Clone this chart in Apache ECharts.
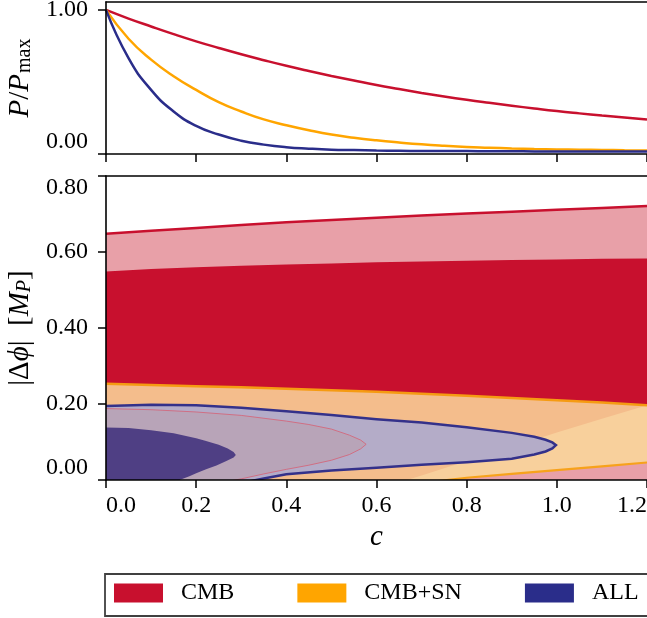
<!DOCTYPE html>
<html><head><meta charset="utf-8">
<script src="https://cdn.jsdelivr.net/npm/echarts@6/dist/echarts.min.js"></script>
<style>html,body{margin:0;padding:0;background:#fff}#c{width:647px;height:618px}</style>
</head><body><div id="c"></div>
<script>
const FONT = 'Liberation Serif';
const RED = '#c8102e', ORANGE = '#ffa500', NAVY = '#2a2d8a';

// ---- top panel: P/Pmax vs c ----
const cTop   = [0, 0.05, 0.1, 0.15, 0.2, 0.25, 0.3, 0.35, 0.4, 0.45, 0.5, 0.55, 0.6, 0.65, 0.7, 0.75, 0.8, 0.85, 0.9, 0.95, 1.0, 1.05, 1.1, 1.15, 1.2];
const pCMB   = [1.0, 0.94, 0.885, 0.832, 0.782, 0.736, 0.692, 0.651, 0.612, 0.576, 0.542, 0.51, 0.479, 0.451, 0.424, 0.399, 0.376, 0.355, 0.335, 0.316, 0.298, 0.282, 0.267, 0.253, 0.239];
const pCMBSN = [1.0, 0.80, 0.655, 0.54, 0.445, 0.36, 0.295, 0.24, 0.20, 0.165, 0.135, 0.113, 0.095, 0.08, 0.067, 0.057, 0.049, 0.044, 0.039, 0.035, 0.032, 0.03, 0.028, 0.026, 0.025];
const pALL   = [1.0, 0.665, 0.445, 0.295, 0.195, 0.135, 0.092, 0.065, 0.047, 0.037, 0.03, 0.027, 0.024, 0.022, 0.021, 0.02, 0.02, 0.019, 0.019, 0.018, 0.018, 0.017, 0.017, 0.017, 0.017];

// ---- bottom panel: |Δφ| contours vs c ----
const cBand  = [0, 0.1, 0.2, 0.3, 0.4, 0.5, 0.6, 0.7, 0.8, 0.9, 1.0, 1.1, 1.2];
const cmb2Lo = [-0.05, -0.05, -0.05, -0.05, -0.05, -0.05, -0.05, -0.05, -0.05, -0.05, -0.05, -0.05, -0.05];
const cmb2Hi = [0.648, 0.656, 0.663, 0.671, 0.678, 0.684, 0.690, 0.696, 0.701, 0.706, 0.711, 0.716, 0.721];
const cmb1Lo = [-0.24, -0.205, -0.17, -0.135, -0.10, -0.062, -0.025, 0.012, 0.05, 0.087, 0.125, 0.161, 0.197];
const cmb1Hi = [0.549, 0.555, 0.560, 0.564, 0.567, 0.570, 0.573, 0.575, 0.577, 0.579, 0.580, 0.582, 0.583];
const snLo   = [-0.08, -0.07, -0.06, -0.05, -0.04, -0.03, -0.02, -0.008, 0.006, 0.016, 0.026, 0.036, 0.046];
const snHi   = [0.253, 0.250, 0.247, 0.244, 0.240, 0.236, 0.232, 0.227, 0.222, 0.216, 0.210, 0.204, 0.197];

const all2C   = [0, 0.1, 0.2, 0.3, 0.4, 0.5, 0.6, 0.7, 0.8, 0.9, 0.95, 0.975, 0.99, 0.998, 0.99, 0.975, 0.95, 0.9, 0.8, 0.7, 0.6, 0.5, 0.4, 0.35, 0.3, 0.2, 0.1, 0];
const all2Phi = [0.195, 0.198, 0.197, 0.190, 0.181, 0.171, 0.160, 0.151, 0.139, 0.124, 0.114, 0.106, 0.099, 0.092, 0.083, 0.075, 0.067, 0.056, 0.047, 0.040, 0.032, 0.025, 0.015, 0.004, -0.008, -0.025, -0.04, -0.05];

const snInC   = [0, 0.1, 0.2, 0.3, 0.4, 0.45, 0.5, 0.54, 0.565, 0.577, 0.565, 0.54, 0.5, 0.45, 0.4, 0.35, 0.3, 0.2, 0.1, 0];
const snInPhi = [0.188, 0.185, 0.179, 0.170, 0.155, 0.146, 0.134, 0.118, 0.105, 0.094, 0.082, 0.067, 0.052, 0.039, 0.028, 0.016, 0.003, -0.02, -0.035, -0.045];

const all1C   = [0, 0.05, 0.1, 0.15, 0.2, 0.22, 0.25, 0.27, 0.283, 0.288, 0.283, 0.267, 0.245, 0.222, 0.2, 0.185, 0.163, 0.1, 0];
const all1Phi = [0.138, 0.137, 0.131, 0.123, 0.110, 0.103, 0.093, 0.083, 0.074, 0.066, 0.059, 0.050, 0.038, 0.028, 0.018, 0.010, 0.0, -0.02, -0.035];

const xTickFmt = v => v.toFixed(1);
const yTickFmt = v => v.toFixed(2);

function clipGroup(params, children) {
  const cs = params.coordSys;
  return { type: 'group', clipPath: { type: 'rect', shape: { x: cs.x, y: cs.y, width: cs.width, height: cs.height } }, children };
}

function bandSeries(name, lo, hi, fill, edges) {
  return {
    type: 'custom', name, xAxisIndex: 2, yAxisIndex: 1, clip: true, silent: true, z: 2,
    data: cBand.map((c, i) => [c, lo[i], hi[i]]),
    encode: { x: 0, y: [1, 2] },
    renderItem(params, api) {
      if (params.dataIndexInside !== 0) return null;
      const n = params.dataInsideLength, top = [], bot = [];
      for (let i = 0; i < n; i++) {
        top.push(api.coord([api.value(0, i), api.value(2, i)]));
        bot.push(api.coord([api.value(0, i), api.value(1, i)]));
      }
      const children = [{ type: 'polygon', shape: { points: top.concat(bot.slice().reverse()) }, style: { fill: fill, stroke: null } }];
      edges.forEach(e => children.push({ type: 'polyline', shape: { points: e.which === 'hi' ? top : bot }, style: { fill: null, stroke: e.color, lineWidth: e.width } }));
      return clipGroup(params, children);
    }
  };
}

function contourSeries(name, cs, ps, fill, stroke, width) {
  return {
    type: 'custom', name, xAxisIndex: 2, yAxisIndex: 1, clip: true, silent: true, z: 2,
    data: cs.map((c, i) => [c, ps[i]]),
    encode: { x: 0, y: 1 },
    renderItem(params, api) {
      if (params.dataIndexInside !== 0) return null;
      const n = params.dataInsideLength, pts = [];
      for (let i = 0; i < n; i++) pts.push(api.coord([api.value(0, i), api.value(1, i)]));
      const children = [{ type: 'polygon', shape: { points: pts }, style: { fill: fill, stroke: null } }];
      if (stroke) children.push({ type: 'polyline', shape: { points: pts }, style: { fill: null, stroke: stroke, lineWidth: width } });
      return clipGroup(params, children);
    }
  };
}

const axLine = { show: true, onZero: false, lineStyle: { color: '#000', width: 1.6 } };
const ticks = { show: true, inside: false, length: 8, lineStyle: { color: '#000', width: 1.5 } };
const lbl = { fontFamily: FONT, fontSize: 24, color: '#000' };
const noSplit = { show: false };

const richY = {
  n:   { fontFamily: FONT, fontSize: 29, color: '#000', lineHeight: 29, verticalAlign: 'top' },
  it:  { fontFamily: FONT, fontSize: 29, fontStyle: 'italic', color: '#000', lineHeight: 29, verticalAlign: 'top' },
  sub: { fontFamily: FONT, fontSize: 20, color: '#000', lineHeight: 20, padding: [13, 0, 0, 1], verticalAlign: 'bottom' },
  subi:{ fontFamily: FONT, fontSize: 20, fontStyle: 'italic', color: '#000', lineHeight: 20, padding: [13, 0, 0, 0], verticalAlign: 'bottom' }
};

function lineSeries(name, ys, color) {
  return {
    type: 'line', name, xAxisIndex: 0, yAxisIndex: 0,
    data: cTop.map((c, i) => [c, ys[i]]),
    showSymbol: false, symbol: 'none', smooth: 0.5, color: color,
    lineStyle: { color: color, width: 2.5 }, itemStyle: { color: color }, z: 3
  };
}

const option = {
  animation: false,
  backgroundColor: '#fff',
  grid: [
    { left: 106, top: 2, width: 541, height: 152, outerBoundsMode: 'none', containLabel: false },
    { left: 106, top: 176, width: 541, height: 304, outerBoundsMode: 'none', containLabel: false }
  ],
  legend: {
    data: ['CMB', 'CMB+SN', 'ALL'],
    left: 105, top: 574, width: 600,
    orient: 'horizontal', icon: 'rect', selectedMode: false,
    itemWidth: 49, itemHeight: 19, itemGap: 63,
    padding: [7, 30, 11, 9],
    borderColor: '#404040', borderWidth: 1.8, borderRadius: 0, backgroundColor: '#fff',
    itemStyle: { borderWidth: 0 },
    textStyle: { fontFamily: FONT, fontSize: 24, color: '#000', lineHeight: 24, padding: [0, 0, 0, 13] }
  },
  xAxis: [
    { gridIndex: 0, type: 'value', min: 0, max: 1.2, interval: 0.2, axisLine: axLine, axisTick: ticks, axisLabel: { show: false }, splitLine: noSplit, z: 10 },
    { gridIndex: 0, type: 'value', position: 'top', min: 0, max: 1.2, interval: 0.2, axisLine: axLine, axisTick: { show: false }, axisLabel: { show: false }, splitLine: noSplit, z: 10 },
    { gridIndex: 1, type: 'value', min: 0, max: 1.2, interval: 0.2, axisLine: axLine, axisTick: ticks,
      axisLabel: Object.assign({}, lbl, { margin: 14, formatter: xTickFmt, alignMinLabel: 'left', alignMaxLabel: 'right' }),
      splitLine: noSplit, z: 10,
      name: 'c', nameLocation: 'middle', nameGap: 43,
      nameTextStyle: { fontFamily: FONT, fontSize: 29, fontStyle: 'italic', color: '#000' } },
    { gridIndex: 1, type: 'value', position: 'top', min: 0, max: 1.2, interval: 0.2, axisLine: axLine, axisTick: { show: false }, axisLabel: { show: false }, splitLine: noSplit, z: 10 }
  ],
  yAxis: [
    { gridIndex: 0, type: 'value', min: 0, max: 1.055, axisLine: axLine,
      axisTick: Object.assign({}, ticks, { customValues: [0, 1] }),
      axisLabel: Object.assign({}, lbl, { margin: 18, customValues: [0, 1], formatter: yTickFmt, verticalAlignMinLabel: 'bottom' }),
      splitLine: noSplit, z: 10,
      name: '{it|P}{n|/}{it|P}{sub|max}', nameLocation: 'middle', nameGap: 64, nameRotate: 90,
      nameTextStyle: { fontFamily: FONT, fontSize: 29, color: '#000', rich: richY } },
    { gridIndex: 1, type: 'value', min: 0, max: 0.8, interval: 0.2, axisLine: axLine, axisTick: ticks,
      axisLabel: Object.assign({}, lbl, { margin: 18, formatter: yTickFmt, verticalAlignMinLabel: 'bottom', verticalAlignMaxLabel: 'top' }),
      splitLine: noSplit, z: 10,
      name: '{n||Δ}{it|ϕ}{n||  [}{it|M}{subi|P}{n|]}', nameLocation: 'middle', nameGap: 64, nameRotate: 90,
      nameTextStyle: { fontFamily: FONT, fontSize: 29, color: '#000', rich: richY } }
  ],
  series: [
    lineSeries('CMB', pCMB, RED),
    lineSeries('CMB+SN', pCMBSN, ORANGE),
    lineSeries('ALL', pALL, NAVY),
    bandSeries('CMB 2σ', cmb2Lo, cmb2Hi, '#e8a0a8', [{ which: 'hi', color: RED, width: 2.5 }]),
    bandSeries('CMB 1σ', cmb1Lo, cmb1Hi, RED, []),
    bandSeries('CMB+SN 2σ', snLo, snHi, 'rgba(250,215,154,0.87)', [{ which: 'hi', color: '#f59b12', width: 2.5 }, { which: 'lo', color: '#f7a21b', width: 2.2 }]),
    contourSeries('ALL 2σ', all2C, all2Phi, '#b4acc8', '#34318a', 2.5),
    contourSeries('CMB+SN 1σ', snInC, snInPhi, '#b8a4b8', 'rgba(214,96,116,0.8)', 1),
    contourSeries('ALL 1σ', all1C, all1Phi, '#4f3f84', null, 0)
  ]
};

const chart = echarts.init(document.getElementById('c'), null, { renderer: 'canvas' });
chart.setOption(option);
</script>
</body></html>
